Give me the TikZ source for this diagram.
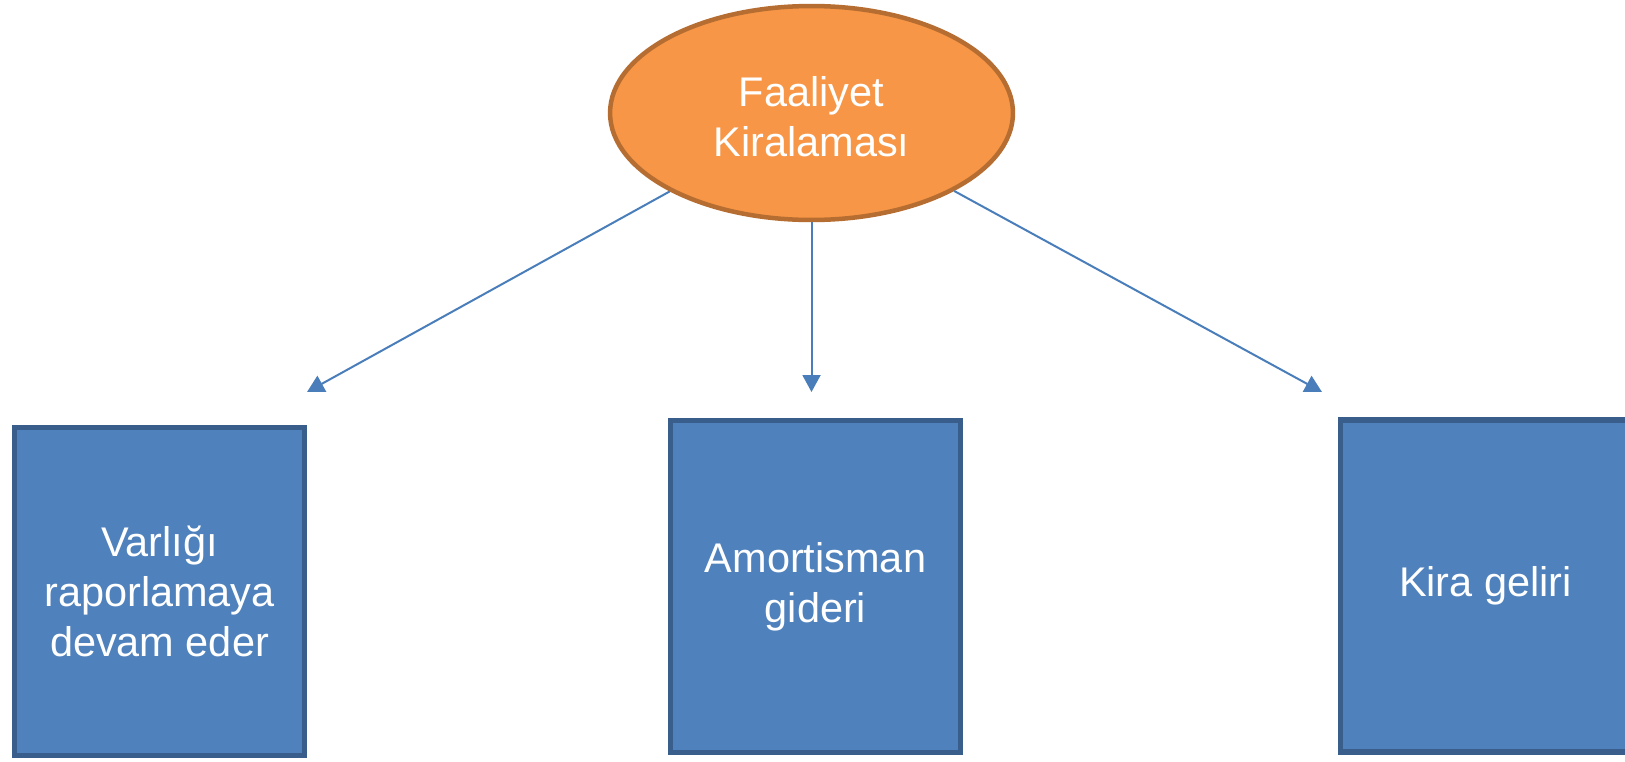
\documentclass[tikz,border=0pt]{standalone}
\usepackage{fontspec}
\setmainfont{Liberation Sans}
\usetikzlibrary{shapes.geometric,arrows.meta}
\definecolor{kutumavi}{HTML}{4F81BD}
\definecolor{kutukenar}{HTML}{3A5E8B}
\definecolor{turuncu}{HTML}{F79646}
\definecolor{turuncukenar}{HTML}{B66D31}
\definecolor{okmavi}{HTML}{4A7EBB}
\tikzset{
    kutu/.style={draw=kutukenar, fill=kutumavi, line width=0.11cm, minimum width=5.8cm, minimum height=6.64cm, text=white, align=center, font=\fontsize{23.6}{28.5}\selectfont},
    elips/.style={ellipse, draw=turuncukenar, fill=turuncu, line width=0.09cm, minimum width=8.06cm, minimum height=4.28cm, inner sep=0pt, text=white, align=center, font=\fontsize{23.6}{28.5}\selectfont},
    ok/.style={draw=okmavi, line width=0.04cm, -{Triangle[length=0.34cm, width=0.36cm]}}
}
\begin{document}
\begin{tikzpicture}[x=0.02cm, y=-0.02cm]
                    \useasboundingbox[fill=white] (0,0) rectangle (1625,761);
                    \node[elips] (faaliyet) at (811.5,113) {\rule{0pt}{0.76cm}Faaliyet\\Kiralaması};
                    \node[kutu, minimum height=6.56cm] (varlik) at (159.5,591.5) {Varlığı\\raporlamaya\\devam eder};
                    \node[kutu] (amortisman) at (815.5,586.5) {Amortisman\\gideri};
                    \node[kutu] (kira) at (1485.5,586) {Kira geliri};
                    \coordinate (ucsol) at (307,392);
                    \coordinate (ucorta) at (811.5,392);
                    \coordinate (ucsag) at (1322,392);
                    \draw[ok] (faaliyet) -- (ucsol);
                    \draw[ok] (faaliyet) -- (ucorta);
                    \draw[ok] (faaliyet) -- (ucsag);
                \end{tikzpicture}
\end{document}
